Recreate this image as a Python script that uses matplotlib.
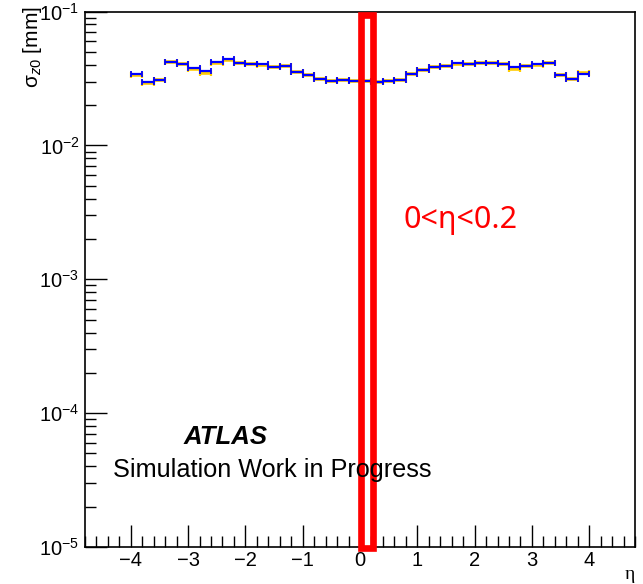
import matplotlib
matplotlib.use('Agg')
import matplotlib.pyplot as plt
import matplotlib.patches as patches
import matplotlib.transforms as mtransforms
import numpy as np

plt.rcParams['font.family'] = ['Liberation Sans', 'DejaVu Sans']
plt.rcParams['mathtext.fontset'] = 'custom'
plt.rcParams['mathtext.rm'] = 'Liberation Sans'
plt.rcParams['mathtext.it'] = 'Liberation Sans:italic'
plt.rcParams['axes.unicode_minus'] = True

# bin edges in eta, 0.2 wide from -4 to 4
eta_lo = np.round(np.arange(-4.0, 4.0, 0.2), 1)
eta_mid = eta_lo + 0.1

# sigma_z0 [mm] per bin
sigma_blue = [0.0340, 0.0298, 0.0309, 0.0416, 0.0405, 0.0380, 0.0358, 0.0419,
              0.0438, 0.0414, 0.0405, 0.0402, 0.0384, 0.0395, 0.0352, 0.0337,
              0.0313, 0.0302, 0.0307, 0.0302, 0.0302, 0.0300, 0.0302, 0.0309,
              0.0340, 0.0364, 0.0387, 0.0393, 0.0409, 0.0405, 0.0414, 0.0414,
              0.0404, 0.0384, 0.0393, 0.0404, 0.0409, 0.0333, 0.0313, 0.0340]
sigma_yellow = [0.0335, 0.0294, 0.0309, 0.0416, 0.0402, 0.0372, 0.0350, 0.0410,
                0.0436, 0.0414, 0.0403, 0.0400, 0.0384, 0.0395, 0.0352, 0.0337,
                0.0313, 0.0302, 0.0307, 0.0302, 0.0302, 0.0300, 0.0302, 0.0309,
                0.0340, 0.0364, 0.0387, 0.0393, 0.0405, 0.0405, 0.0414, 0.0414,
                0.0404, 0.0372, 0.0390, 0.0400, 0.0412, 0.0336, 0.0313, 0.0346]

xticks = [-4, -3, -2, -1, 0, 1, 2, 3, 4]

fig = plt.figure(figsize=(6.43, 5.84), dpi=100)
ax = fig.add_axes([85/643, 37/584, 550/643, 535.5/584])

ax.errorbar(eta_mid, sigma_yellow, xerr=0.1, fmt='none', ecolor='#ffcc00',
            elinewidth=2.6, capsize=2.5, capthick=1.6)
ax.errorbar(eta_mid, sigma_blue, xerr=0.1, fmt='none', ecolor='#0000ff',
            elinewidth=1.6, capsize=2.5, capthick=1.3)

ax.set_yscale('log')
ax.set_ylim(1e-5, 1e-1)
ax.set_xlim(-4.8, 4.8)
ax.set_xticks(xticks)
ax.set_xticklabels(['\u2212%d' % -v if v < 0 else '%d' % v for v in xticks])
ax.xaxis.set_minor_locator(matplotlib.ticker.MultipleLocator(0.2))

ax.tick_params(which='both', direction='in', top=False, right=False,
               labelsize=14.5, colors='black')
ax.tick_params(axis='x', which='major', length=16, width=1, pad=3)
ax.tick_params(axis='x', which='minor', length=8, width=1)
ax.tick_params(axis='y', which='major', length=16, width=1, pad=4)
ax.tick_params(axis='y', which='minor', length=8, width=1)
for s in ax.spines.values():
    s.set_linewidth(1.2)

ax.set_ylabel('\u03c3$_{z0}$ [mm]', fontsize=15, loc='top')
ax.yaxis.set_label_coords(-0.075, 1.01)
ax.set_xlabel('\u03b7', fontsize=14, loc='right', fontfamily='Liberation Serif')
ax.xaxis.set_label_coords(1.0, -0.036)

fig.text(226/643, 1 - 437/584, 'ATLAS', fontsize=18.5, fontweight='bold',
         fontstyle='italic', ha='center', va='center')
fig.text(113/643, 1 - 470/584, 'Simulation Work in Progress', fontsize=18.2,
         ha='left', va='center')

# highlighted bin
trans = mtransforms.blended_transform_factory(ax.transData, ax.transAxes)
ax.add_patch(patches.Rectangle((0.01, -0.002), 0.22, 0.995, transform=trans,
                               fill=False, edgecolor='#ff0000', linewidth=4.8,
                               clip_on=False, zorder=5))
fig.text(403/643, 1 - 220/584, '0<\u03b7<0.2', fontsize=22, color='#ff0000',
         fontfamily=['Noto Sans', 'DejaVu Sans'], ha='left', va='center')

fig.savefig('out.png', dpi=100)
